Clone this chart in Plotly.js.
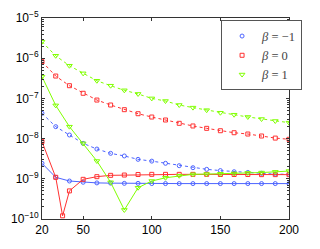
<!DOCTYPE html>
<html><head><meta charset="utf-8">
<script src="https://cdn.plot.ly/plotly-3.0.1.min.js"></script>
<style>html,body{margin:0;padding:0;background:#fff}#c{width:320px;height:249px}</style>
</head><body><div id="c"></div>
<script>
var xs = [20,30,40,50,60,70,80,90,100,110,120,130,140,150,160,170,180,190,200];
var xRedSolid = [20,30,35,40,50,60,70,80,90,100,110,120,130,140,150,160,170,180,190,200];

var blueDashed = [4.26e-8,1.98e-8,1.23e-8,7.6e-9,5.5e-9,4.3e-9,3.7e-9,3.05e-9,2.75e-9,2.43e-9,2.12e-9,1.89e-9,1.72e-9,1.6e-9,1.5e-9,1.44e-9,1.37e-9,1.31e-9,1.29e-9];
var blueSolid = [2.43e-9,1.09e-9,8.8e-10,8.2e-10,7.9e-10,7.8e-10,7.7e-10,7.7e-10,7.6e-10,7.6e-10,7.6e-10,7.6e-10,7.6e-10,7.6e-10,7.6e-10,7.6e-10,7.6e-10,7.6e-10,7.6e-10];
var redDashed = [8.2e-7,3.6e-7,2.07e-7,1.34e-7,9.1e-8,6.85e-8,5.24e-8,4.16e-8,3.44e-8,2.9e-8,2.4e-8,2.06e-8,1.8e-8,1.57e-8,1.4e-8,1.3e-8,1.16e-8,1.03e-8,9.6e-9];
var redSolid = [8.4e-9,1.09e-9,1.2e-10,5.0e-10,9.7e-10,1.13e-9,1.22e-9,1.24e-9,1.28e-9,1.29e-9,1.29e-9,1.29e-9,1.29e-9,1.29e-9,1.28e-9,1.28e-9,1.28e-9,1.27e-9,1.27e-9,1.27e-9];
var greenDashed = [2.57e-6,1.15e-6,6.5e-7,4.2e-7,2.75e-7,2.07e-7,1.59e-7,1.29e-7,1.0e-7,8.6e-8,6.85e-8,5.9e-8,5.1e-8,4.4e-8,3.93e-8,3.45e-8,3.07e-8,2.74e-8,2.49e-8];
var greenSolid = [3.47e-7,6.7e-8,1.98e-8,7.6e-9,2.77e-9,8.2e-10,1.68e-10,6.0e-10,8.8e-10,1.06e-9,1.19e-9,1.29e-9,1.31e-9,1.33e-9,1.36e-9,1.40e-9,1.43e-9,1.49e-9,1.56e-9];

var legendNames = ['<i>β</i> = −1','<i>β</i> = 0','<i>β</i> = 1'];
var yTickVals = [1e-10,1e-9,1e-8,1e-7,1e-6,1e-5];
var yTickText = ['10<sup>−10</sup>','10<sup>−9</sup>','10<sup>−8</sup>','10<sup>−7</sup>','10<sup>−6</sup>','10<sup>−5</sup>'];
var xTickVals = [20,50,100,150,200];

var BLUE='rgb(77,100,255)', RED='rgb(255,50,50)', GREEN='rgb(128,255,0)';
function tr(x,y,color,sym,dash,size){
  return {x:x,y:y,type:'scatter',mode:'lines+markers',showlegend:false,
    line:{color:color,width:1,dash:dash},
    marker:{symbol:sym,size:size,color:color,line:{color:color,width:1}}};
}
function leg(name,color,sym,size){
  return {x:[null],y:[null],type:'scatter',mode:'markers',name:name,
    marker:{symbol:sym,size:size,color:color,line:{color:color,width:1}}};
}
var D='3px,3px';
var data = [
  tr(xs,blueDashed,BLUE,'circle-open',D,4),
  tr(xs,blueSolid,BLUE,'circle-open','solid',4),
  tr(xs,redDashed,RED,'square-open',D,4),
  tr(xRedSolid,redSolid,RED,'square-open','solid',4),
  tr(xs,greenDashed,GREEN,'triangle-down-open',D,5),
  tr(xs,greenSolid,GREEN,'triangle-down-open','solid',5),
  leg(legendNames[0],BLUE,'circle-open',4),
  leg(legendNames[1],RED,'square-open',4),
  leg(legendNames[2],GREEN,'triangle-down-open',5)
];
var axc='#333';
var layout = {
  width:320,height:249,
  margin:{l:42,r:31,t:18,b:30,pad:0},
  paper_bgcolor:'#fff',plot_bgcolor:'#fff',
  font:{family:'Liberation Sans, Arial, sans-serif',size:12,color:'#000'},
  xaxis:{range:[20,200],tickvals:xTickVals,ticks:'inside',ticklen:3,tickcolor:axc,
    showline:true,linecolor:axc,linewidth:1,mirror:'ticks',showgrid:false,zeroline:false,
    tickfont:{size:12}},
  yaxis:{type:'log',range:[-10,-5],tickvals:yTickVals,ticktext:yTickText,ticks:'inside',ticklen:3,tickcolor:axc,
    showline:true,linecolor:axc,linewidth:1,mirror:'ticks',showgrid:false,zeroline:false,
    tickfont:{size:12},
    minor:{ticks:'inside',ticklen:2,tickcolor:axc,dtick:'D1',showgrid:false}},
  legend:{x:0.725,y:0.988,xanchor:'left',yanchor:'top',bgcolor:'#fff',bordercolor:'#555',borderwidth:1,
    font:{family:'Liberation Serif, DejaVu Serif, serif',size:12.5,color:'#444'},tracegroupgap:0,itemwidth:30}
};
Plotly.newPlot('c',data,layout,{staticPlot:true});
</script></body></html>
